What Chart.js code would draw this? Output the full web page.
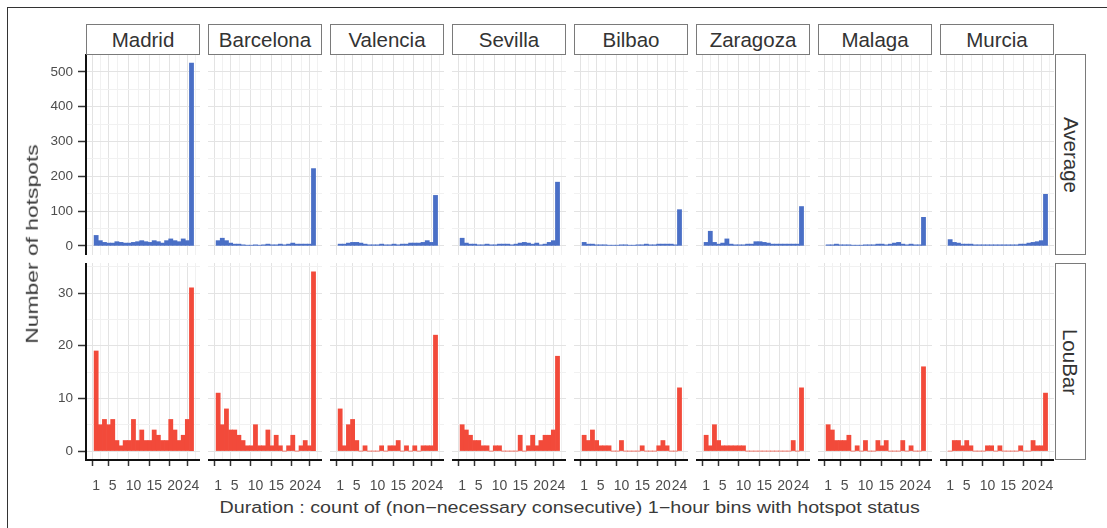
<!DOCTYPE html>
<html>
<head>
<meta charset="utf-8">
<script src="https://cdn.jsdelivr.net/npm/chart.js@4.4.1/dist/chart.umd.min.js"></script>
<style>
  body { margin: 0; background: #fff; width: 1107px; height: 528px; overflow: hidden; position: relative;
         font-family: "Liberation Sans", Arial, sans-serif; }
  .frame { position: absolute; left: 7px; top: 7px; width: 1200px; height: 600px; border: 1.5px solid #333; }
  .strip { position: absolute; box-sizing: border-box; border: 1.5px solid #7a7a7a; background: #fff; color: #333;
           font-size: 20.5px; display: flex; align-items: center; justify-content: center; white-space: nowrap; }
  .strip.side span { transform: rotate(90deg); display: inline-block; }
  .panel { position: absolute; }
  .title { position: absolute; color: #3a3a3a; font-size: 16px; white-space: nowrap; }
</style>
</head>
<body>
<div class="frame"></div>
<div id="root"></div>
<div class="title" id="xtitle">Duration : count of (non−necessary consecutive) 1−hour bins with hotspot status</div>
<div class="title" id="ytitle">Number of hotspots</div>
<script>
// facettes : villes en colonnes, méthode en lignes
const cities = ['Madrid', 'Barcelona', 'Valencia', 'Sevilla', 'Bilbao', 'Zaragoza', 'Malaga', 'Murcia'];
const methods = ['Average', 'LouBar'];
const durationBins = [1, 2, 3, 4, 5, 6, 7, 8, 9, 10, 11, 12, 13, 14, 15, 16, 17, 18, 19, 20, 21, 22, 23, 24];
const xTickLabels = [1, 5, 10, 15, 20, 24];
const xMinorGrid = [3, 7.5, 12.5, 17.5, 22];
const averageTicks = [0, 100, 200, 300, 400, 500];
const loubarTicks = [0, 10, 20, 30];

// ligne "Average"
const averageMadrid    = [30, 15, 10, 8, 8, 12, 10, 8, 8, 10, 12, 15, 12, 10, 15, 12, 8, 15, 20, 15, 12, 20, 15, 525];
const averageBarcelona = [15, 22, 15, 8, 5, 5, 3, 2, 2, 3, 2, 3, 5, 3, 3, 5, 3, 5, 8, 5, 5, 5, 5, 222];
const averageValencia  = [5, 5, 8, 10, 10, 8, 5, 3, 3, 3, 5, 3, 3, 5, 3, 5, 5, 8, 8, 8, 10, 15, 10, 145];
const averageSevilla   = [22, 8, 5, 5, 3, 3, 5, 3, 3, 5, 5, 5, 3, 5, 8, 10, 8, 5, 8, 3, 5, 10, 15, 183];
const averageBilbao    = [10, 5, 5, 3, 3, 3, 2, 2, 2, 3, 3, 2, 2, 3, 3, 5, 3, 3, 5, 5, 5, 5, 3, 104];
const averageZaragoza  = [10, 42, 10, 5, 8, 20, 5, 3, 3, 3, 5, 5, 12, 12, 10, 8, 5, 5, 5, 5, 5, 5, 5, 113];
const averageMalaga    = [3, 3, 5, 3, 3, 3, 2, 2, 2, 3, 3, 3, 5, 5, 3, 5, 8, 10, 5, 3, 5, 3, 3, 82];
const averageMurcia    = [18, 10, 8, 5, 5, 5, 3, 3, 3, 3, 3, 3, 3, 3, 3, 3, 3, 5, 5, 8, 10, 12, 15, 148];

// ligne "LouBar"
const loubarMadrid    = [19, 5, 6, 5, 6, 2, 1, 2, 2, 6, 2, 4, 2, 2, 4, 3, 2, 2, 6, 4, 2, 3, 6, 31];
const loubarBarcelona = [11, 5, 8, 4, 4, 3, 2, 1, 1, 5, 1, 1, 4, 1, 3, 1, 0, 1, 3, 0, 1, 2, 1, 34];
const loubarValencia  = [8, 1, 5, 6, 2, 0, 1, 0, 0, 0, 1, 0, 1, 1, 2, 0, 1, 0, 1, 0, 1, 1, 1, 22];
const loubarSevilla   = [5, 4, 3, 2, 2, 1, 1, 0, 1, 1, 0, 0, 0, 0, 3, 0, 1, 3, 1, 2, 3, 3, 4, 18];
const loubarBilbao    = [3, 2, 4, 2, 1, 1, 1, 0, 0, 2, 0, 0, 0, 0, 1, 0, 0, 0, 1, 2, 1, 0, 0, 12];
const loubarZaragoza  = [3, 1, 5, 2, 1, 1, 1, 1, 1, 1, 0, 0, 0, 0, 0, 0, 0, 0, 0, 0, 0, 2, 0, 12];
const loubarMalaga    = [5, 4, 2, 2, 2, 3, 0, 1, 0, 2, 0, 0, 2, 1, 2, 0, 0, 0, 2, 0, 1, 0, 0, 16];
const loubarMurcia    = [0, 2, 2, 1, 2, 1, 0, 0, 0, 1, 1, 0, 1, 0, 0, 0, 0, 1, 0, 0, 2, 1, 1, 11];

const averageSeries = [averageMadrid, averageBarcelona, averageValencia, averageSevilla,
                       averageBilbao, averageZaragoza, averageMalaga, averageMurcia];
const loubarSeries = [loubarMadrid, loubarBarcelona, loubarValencia, loubarSevilla,
                      loubarBilbao, loubarZaragoza, loubarMalaga, loubarMurcia];

// mise en page (pixels)
const COL0 = 86, STEP = 122, PW = 114, YW = 56, XH = 34;
const FONT = '"Liberation Sans", Arial, sans-serif';
const rows = [
  { top: 54, h: 201, series: averageSeries, color: '#4a6fc6', majors: averageTicks, step: 50,
    min: -26.25, max: 551.25, xAxis: false },
  { top: 263, h: 197, series: loubarSeries, color: '#f24a3a', majors: loubarTicks, step: 5,
    min: -1.7, max: 35.7, xAxis: true }
];
const xGrid = xTickLabels.concat(xMinorGrid).sort((a, b) => a - b);
const root = document.getElementById('root');

function addStrip(text, left, top, w, h, side) {
  const d = document.createElement('div');
  d.className = 'strip' + (side ? ' side' : '');
  Object.assign(d.style, { left: left + 'px', top: top + 'px', width: w + 'px', height: h + 'px' });
  d.innerHTML = '<span>' + text + '</span>';
  root.appendChild(d);
}

// pas de marge automatique autour des étiquettes : toutes les facettes gardent la même zone de tracé
function noPad(s) { s.paddingTop = 0; s.paddingBottom = 0; s.paddingLeft = 0; s.paddingRight = 0; }

rows.forEach((row, r) => {
  const yGrid = [];
  row.majors.forEach(v => { yGrid.push(v); yGrid.push(v + row.step); });

  cities.forEach((city, c) => {
    const first = c === 0;
    const left = COL0 + c * STEP - (first ? YW : 0);
    const width = PW + (first ? YW : 0);
    const height = row.h + (row.xAxis ? XH : 0);

    const box = document.createElement('div');
    box.className = 'panel';
    Object.assign(box.style, { left: left + 'px', top: row.top + 'px', width: width + 'px', height: height + 'px' });
    const canvas = document.createElement('canvas');
    canvas.width = width; canvas.height = height;
    box.appendChild(canvas);
    root.appendChild(box);

    const isMajorX = v => xTickLabels.includes(v);
    const isMajorY = v => row.majors.includes(v);

    new Chart(canvas, {
      type: 'bar',
      data: {
        datasets: [{
          data: durationBins.map((b, i) => ({ x: b, y: row.series[c][i] })),
          backgroundColor: row.color,
          borderWidth: 0,
          barPercentage: 1,
          categoryPercentage: 1
        }]
      },
      options: {
        responsive: false,
        animation: false,
        layout: { padding: 0 },
        plugins: { legend: { display: false }, tooltip: { enabled: false } },
        scales: {
          x: {
            type: 'linear', min: -1.45, max: 26.05, offset: false,
            afterBuildTicks: s => { s.ticks = xGrid.map(v => ({ value: v })); },
            afterFit: s => { s.height = row.xAxis ? XH : 0; noPad(s); },
            ticks: {
              display: row.xAxis, autoSkip: false, maxRotation: 0, minRotation: 0, padding: 12,
              font: { size: 14, family: FONT }, color: '#4d4d4d',
              callback: v => isMajorX(v) ? String(v) : ''
            },
            grid: {
              color: ctx => (ctx.tick && isMajorX(ctx.tick.value)) ? '#e3e3e3' : '#f1f1f1',
              drawTicks: row.xAxis, tickLength: 6, tickWidth: 1.5,
              tickColor: ctx => (ctx.tick && isMajorX(ctx.tick.value)) ? '#333' : 'rgba(0,0,0,0)'
            },
            border: { display: row.xAxis, color: '#111', width: 2 }
          },
          y: {
            min: row.min, max: row.max,
            afterBuildTicks: s => { s.ticks = yGrid.map(v => ({ value: v })); },
            afterFit: s => { s.width = first ? YW : 0; noPad(s); },
            ticks: {
              display: first, autoSkip: false, padding: 5,
              font: { size: 13.5, family: FONT }, color: '#4d4d4d',
              callback: v => isMajorY(v) ? String(v) : ''
            },
            grid: {
              color: ctx => (ctx.tick && isMajorY(ctx.tick.value)) ? '#e3e3e3' : '#f1f1f1',
              drawTicks: first, tickLength: 8, tickWidth: 1.5,
              tickColor: ctx => (ctx.tick && isMajorY(ctx.tick.value)) ? '#333' : 'rgba(0,0,0,0)'
            },
            border: { display: first, color: '#111', width: 2 }
          }
        }
      }
    });

    if (r === 0) addStrip(city, COL0 + c * STEP, 24, PW, 31, false);
  });

  addStrip(methods[r], COL0 + 7 * STEP + PW + 1, row.top, 31, row.h, true);
});

// titres d'axes, étirés comme sur l'original
const xt = document.getElementById('xtitle');
xt.style.transform = 'scaleX(' + (700 / xt.offsetWidth) + ')';
xt.style.left = (569 - xt.offsetWidth / 2) + 'px';
xt.style.top = (508 - xt.offsetHeight / 2) + 'px';
const yt = document.getElementById('ytitle');
yt.style.left = (33 - yt.offsetWidth / 2) + 'px';
yt.style.top = (244 - yt.offsetHeight / 2) + 'px';
yt.style.transform = 'rotate(-90deg) scaleX(' + (200 / yt.offsetWidth) + ')';
</script>
</body>
</html>
